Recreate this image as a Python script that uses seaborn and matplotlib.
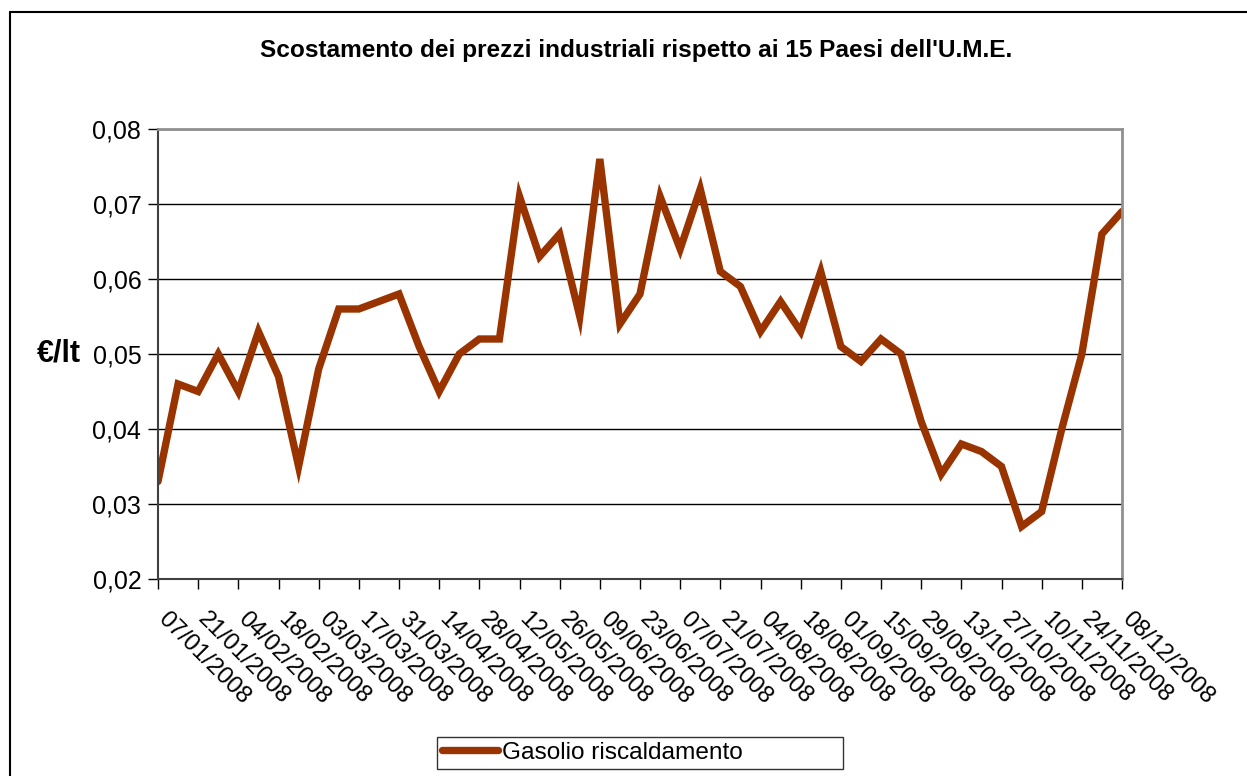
import seaborn as sns
import pandas as pd
import matplotlib.pyplot as plt
from matplotlib.lines import Line2D
from matplotlib.transforms import ScaledTranslation

# weekly values, 07/01/2008 .. 08/12/2008
valori = [0.033, 0.046, 0.045, 0.050, 0.045, 0.053, 0.047, 0.035, 0.048, 0.056,
          0.056, 0.057, 0.058, 0.051, 0.045, 0.050, 0.052, 0.052, 0.071, 0.063,
          0.066, 0.055, 0.076, 0.054, 0.058, 0.071, 0.064, 0.072, 0.061, 0.059,
          0.053, 0.057, 0.053, 0.061, 0.051, 0.049, 0.052, 0.050, 0.041, 0.034,
          0.038, 0.037, 0.035, 0.027, 0.029, 0.040, 0.050, 0.066, 0.069]
settimane = list(range(len(valori)))

date_label = ["07/01/2008", "21/01/2008", "04/02/2008", "18/02/2008", "03/03/2008",
              "17/03/2008", "31/03/2008", "14/04/2008", "28/04/2008", "12/05/2008",
              "26/05/2008", "09/06/2008", "23/06/2008", "07/07/2008", "21/07/2008",
              "04/08/2008", "18/08/2008", "01/09/2008", "15/09/2008", "29/09/2008",
              "13/10/2008", "27/10/2008", "10/11/2008", "24/11/2008", "08/12/2008"]
y_ticks = [0.02, 0.03, 0.04, 0.05, 0.06, 0.07, 0.08]
y_labels = ["0,02", "0,03", "0,04", "0,05", "0,06", "0,07", "0,08"]

df = pd.DataFrame({"settimana": settimane, "valore": valori})

sns.set_style("white")
plt.rcParams['font.family'] = ['Liberation Sans', 'DejaVu Sans']
plt.rcParams.update({"text.color": "black", "axes.labelcolor": "black",
                     "xtick.color": "black", "ytick.color": "black"})

fig = plt.figure(figsize=(12.47, 7.76), dpi=100)
ax = fig.add_axes([158/1247, 1 - 579/776, (1122-158)/1247, (579-129)/776])

sns.lineplot(data=df, x="settimana", y="valore", color="#993300", linewidth=5.3,
             ax=ax, legend=False, solid_joinstyle="miter")

ax.set_xlim(0, 48)
ax.set_ylim(0.02, 0.08)
ax.set_yticks(y_ticks)
ax.set_yticklabels(y_labels, fontsize=18)
ax.set_xticks(settimane[::2])
ax.set_xticklabels(date_label, rotation=-45, ha="left", va="top",
                   rotation_mode="anchor", fontsize=17.3)
ax.tick_params(axis="both", direction="out", length=7, width=1, color="black",
               bottom=True, left=True)
ax.tick_params(axis="x", pad=14)
ax.tick_params(axis="y", pad=5)
shift = ScaledTranslation(11/100, 0, fig.dpi_scale_trans)
for lbl in ax.get_xticklabels():
    lbl.set_transform(lbl.get_transform() + shift)
ax.yaxis.grid(True, color="black", linewidth=1)
ax.set_axisbelow(True)
ax.set_xlabel("")
ax.set_ylabel("€/lt", fontsize=22, fontweight="bold", rotation=0,
              ha="center", va="center")
ax.yaxis.set_label_coords((59 - 158) / 964, (579 - 354) / 450)
for s in ["top", "right"]:
    ax.spines[s].set_color("#909090")
    ax.spines[s].set_linewidth(2)
for s in ["left", "bottom"]:
    ax.spines[s].set_color("#404040")
    ax.spines[s].set_linewidth(1.5)

fig.text(636/1247, 1 - 50/776, "Scostamento dei prezzi industriali rispetto ai 15 Paesi dell'U.M.E.",
         ha="center", va="center", fontsize=17.6, fontweight="bold")

# outer chart border
fig.add_artist(Line2D([10/1247, 10/1247], [0, 1 - 12/776], color="black", linewidth=1.5))
fig.add_artist(Line2D([10/1247, 1], [1 - 12/776, 1 - 12/776], color="black", linewidth=1.5))

handle = Line2D([], [], color="#993300", linewidth=5.3)
leg = fig.legend([handle], ["Gasolio riscaldamento"], loc="upper left",
                 bbox_to_anchor=(437/1247, 1 - 774/776, (843-437)/1247, (774-737)/776),
                 mode="expand", fontsize=17.6,
                 frameon=True, fancybox=False, edgecolor="black",
                 handlelength=2.3, handletextpad=0.15, borderpad=0.2,
                 borderaxespad=0)
leg.get_frame().set_linewidth(1)

fig.savefig("out.png", dpi=100)
